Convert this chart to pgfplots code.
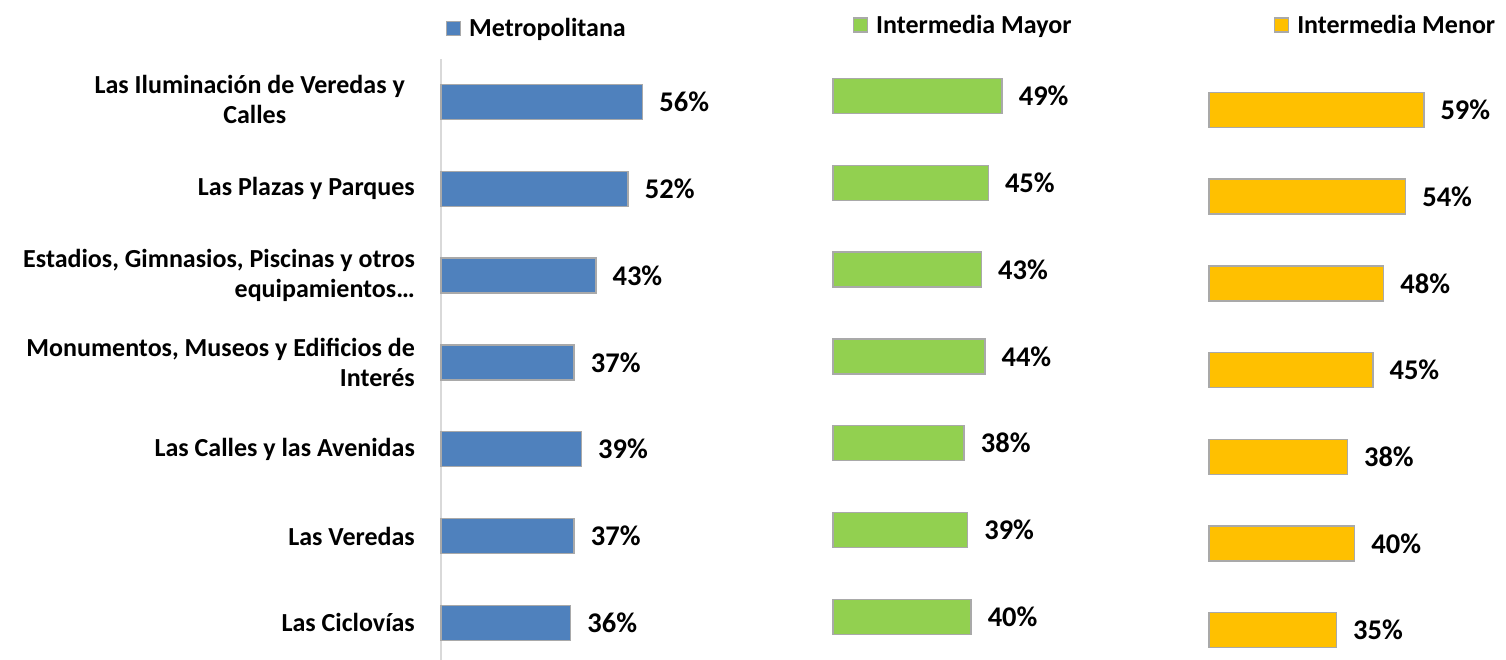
\documentclass[border=0pt]{standalone}
\usepackage{fontspec}
\setmainfont{Carlito}
\usepackage{pgfplots}
\pgfplotsset{compat=1.18}
\definecolor{cBlue}{HTML}{4F81BD}
\definecolor{cGreen}{HTML}{92D050}
\definecolor{cOrange}{HTML}{FFC000}
\definecolor{cBorder}{HTML}{A9A9A9}
\definecolor{cAxis}{HTML}{D9D9D9}
\newcommand\catfont{\fontsize{26}{30}\selectfont\bfseries}
\newcommand\legfont{\fontsize{26}{30}\selectfont\bfseries}
\newcommand\valfont{\fontsize{28.5}{32}\selectfont\bfseries}
\pgfplotsset{
  panel/.style={
    xbar, clip=false,
    bar width=35pt,
    xmin=0, xmax=65, ymin=-0.49, ymax=6.5,
    y dir=reverse,
    anchor=origin,
    point meta=x,
    /pgf/number format/assume math mode=true,
    nodes near coords={\pgfmathprintnumber[assume math mode=true]{\pgfplotspointmeta}\%},
    every node near coord/.append style={font=\valfont, anchor=west, inner sep=0pt, xshift=16pt, text=black},
    legend image code/.code={\draw[##1, line width=1.2pt] (0pt,-7pt) rectangle (14pt,7pt);},
    legend style={draw=none, fill=none, inner sep=0pt, outer sep=0pt, anchor=west,
      font=\legfont, nodes={inner sep=0pt},
      /tikz/every odd column/.append style={column sep=8pt}},
  },
}
\begin{document}
\begin{tikzpicture}[x=1pt,y=1pt]
\useasboundingbox (0,0) rectangle (1506,-660);
% Panel 1: Metropolitana
\begin{axis}[panel,
  at={(441pt,-102pt)}, x=3.6pt, y=86.8pt,
  axis x line=none, axis y line*=left,
  y axis line style={draw=cAxis, line width=2pt},
  ytick={0,1,2,3,4,5,6}, major tick length=0pt,
  yticklabels={{\begin{tabular}{@{}c@{}}Las Iluminación de Veredas y\hspace*{10pt}\\Calles\end{tabular}},{Las Plazas y Parques},{Estadios, Gimnasios, Piscinas y otros\\equipamientos…},{Monumentos, Museos y Edificios de\\Interés},{Las Calles y las Avenidas},{Las Veredas},{Las Ciclovías}},
  yticklabel style={font=\catfont, align=right, inner sep=0pt, xshift=-26pt},
  legend style={at={(axis description cs:0.021,1.0516)}},
]
\addplot[fill=cBlue, draw=cBorder, line width=1.5pt] coordinates {(56,0) (52,1) (43,2) (37,3) (39,4) (37,5) (36,6)};
\addlegendentry{Metropolitana}
\end{axis}
% Panel 2: Intermedia Mayor
\begin{axis}[panel,
  at={(833pt,-96pt)}, x=3.45pt, y=86.8pt,
  hide axis,
  legend style={at={(axis description cs:0.089,1.047)}},
]
\addplot[fill=cGreen, draw=cBorder, line width=1.5pt] coordinates {(49,0) (45,1) (43,2) (44,3) (38,4) (39,5) (40,6)};
\addlegendentry{Intermedia Mayor}
\end{axis}
% Panel 3: Intermedia Menor
\begin{axis}[panel,
  at={(1209pt,-110pt)}, x=3.64pt, y=86.7pt,
  hide axis,
  legend style={at={(axis description cs:0.275,1.070)}},
]
\addplot[fill=cOrange, draw=cBorder, line width=1.5pt] coordinates {(59,0) (54,1) (48,2) (45,3) (38,4) (40,5) (35,6)};
\addlegendentry{Intermedia Menor}
\end{axis}
\end{tikzpicture}
\end{document}
